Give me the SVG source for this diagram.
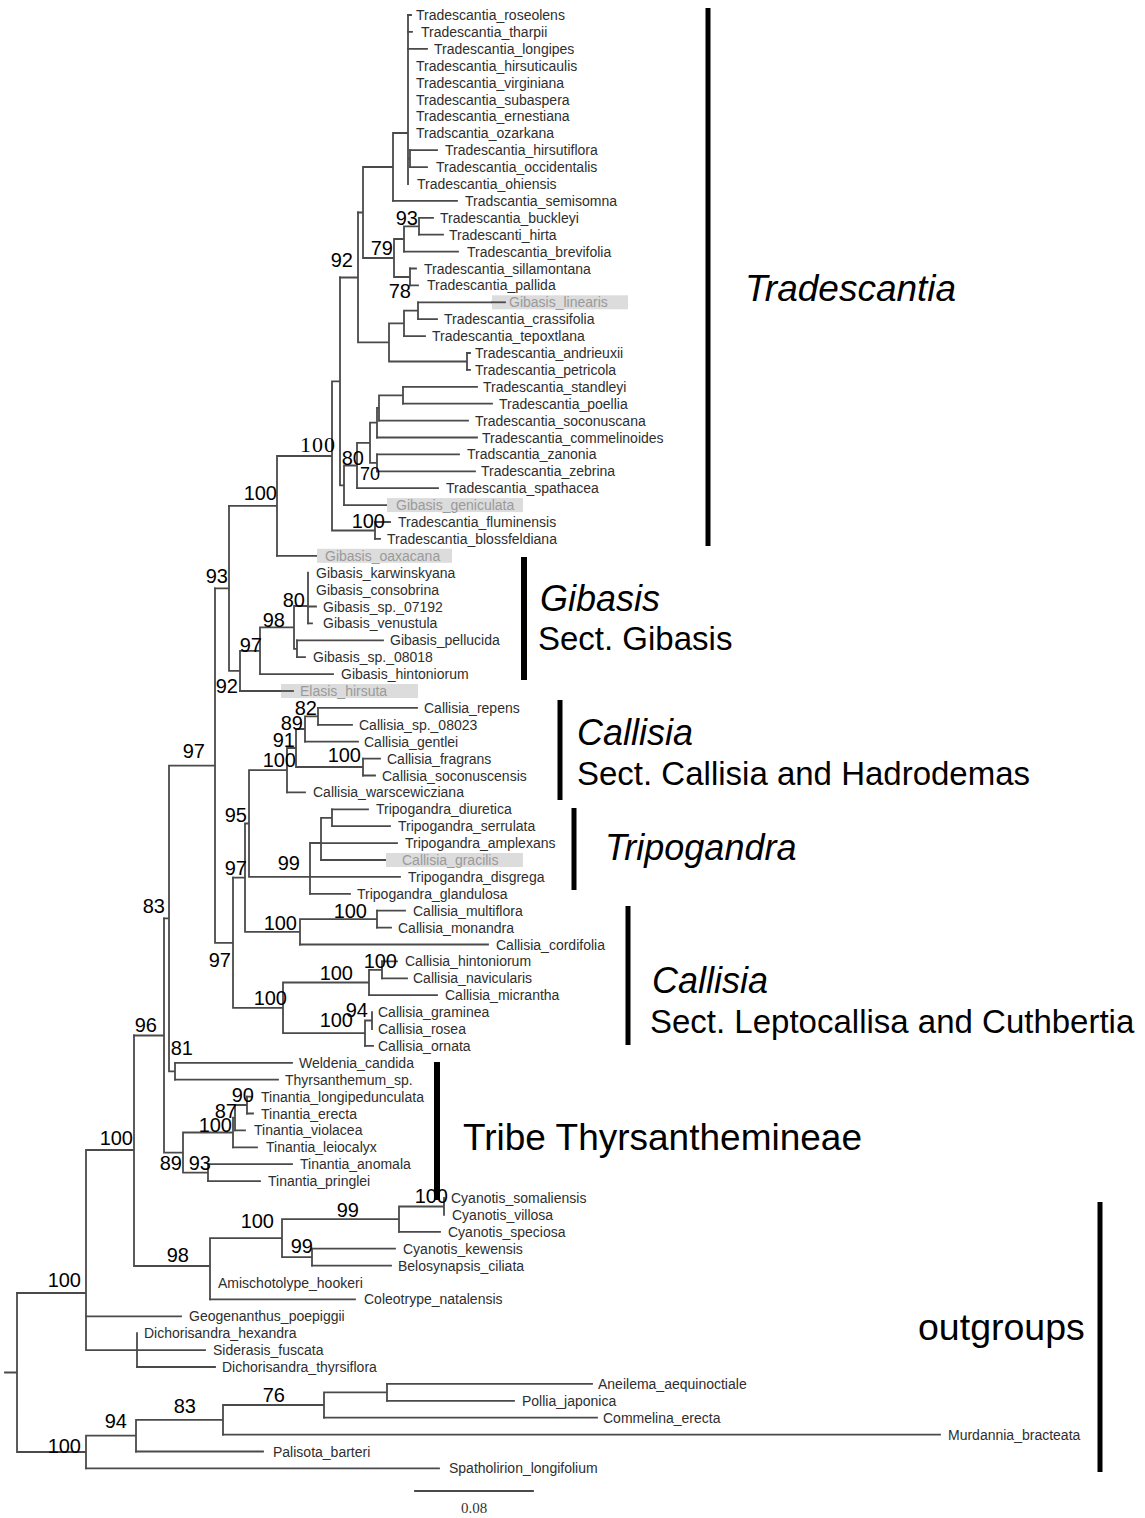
<svg xmlns="http://www.w3.org/2000/svg" width="1145" height="1518" viewBox="0 0 1145 1518">
<style>
.br{stroke:#4a4a4a;stroke-width:1.8;fill:none;stroke-linecap:square}
.lf{font-family:"Liberation Sans",Arial,sans-serif;font-size:14px;fill:#2e2e2e}
.hl{font-family:"Liberation Sans",Arial,sans-serif;font-size:14px;fill:#9a9a9a}
.hb{fill:#dcdcdc}
.bs{font-family:"Liberation Sans",Arial,sans-serif;font-size:20px;fill:#000;text-anchor:end}
.bss{font-family:"Liberation Serif","Times New Roman",serif;font-size:22px;fill:#000;text-anchor:end;letter-spacing:1px}
.bar{fill:#000}
.cl{font-family:"Liberation Sans",Arial,sans-serif;font-size:36px;fill:#000;font-style:italic}
.cs{font-family:"Liberation Sans",Arial,sans-serif;font-size:33px;fill:#000}
.sc{font-family:"Liberation Serif","Times New Roman",serif;font-size:15px;fill:#333;text-anchor:middle}
</style>
<rect width="1145" height="1518" fill="#fff"/>
<g id="connectors" class="br">
<path d="M408 15V184M393 133H408M410 150.2V167.1M408 158.6H410M393 133V200.9M363 167H393M419 217.8V234.7M404 226.3H419M404 226.3V251.6M394 239H404M410 268.5V285.4M394 277H410M394 239V277M363 258H394M363 167V258M358 212.5H363"/>
<path d="M418 302.3V319.2M404 310.7H418M404 310.7V336.1M389 323.4H404M467 353V369.9M389 361.5H467M389 323.4V361.5M358 342.4H389M358 212.5V342.4M340 277.5H358"/>
<path d="M403 386.8V403.7M379 395.3H403M379 395.3V420.6M377 408H379M377 408V437.5M370 422.7H377M377 454.4V471.3M370 462.9H377M370 422.7V462.9M357 442.8H370M357 442.8V488.2M344 465.5H357M344 465.5V505.1M340 485.3H344M340 277.5V485.3M332 381.4H340M375 522V538.9M332 530.5H375M332 381.4V530.5M277 456H332M277 456V555.8M229 505.9H277"/>
<path d="M308 572.7V623.4M294 606H308M297 640.3V657.2M294 648.8H297M294 606V648.8M260 627.4H294M260 627.4V674.1M240 650.8H260M240 650.8V691M229 670.9H240M229 505.9V670.9M215 588.4H229"/>
<path d="M318 707.9V724.8M305 716.4H318M305 716.4V741.7M296 729H305M363 758.6V775.5M296 767H363M296 729V767M287 748H296M287 748V792.4M249 770.2H287M332 809.3V826.2M321 817.8H332M321 817.8V860M310 843H321M310 843V893.8M249 876.9H310M249 770.2V876.9M245 823.5H249M377 910.7V927.6M300 919.2H377M300 919.2V944.5M245 931.8H300M245 823.5V931.8M233 877.7H245"/>
<path d="M382 961.4V978.3M369 969.9H382M369 969.9V995.2M283 982.5H369M372 1012.1V1029M365 1020.5H372M365 1020.5V1045.9M283 1033.2H365M283 982.5V1033.2M233 1007.9H283M233 877.7V1007.9M215 942.8H233M215 588.4V942.8M169 765.6H215M175 1062.8V1079.7M169 1071.3H175M169 765.6V1071.3M164 918.4H169"/>
<path d="M247 1096.6V1113.5M235 1105H247M235 1105V1130.4M233 1117.7H235M233 1117.7V1147.3M183 1132.5H233M208 1164.2V1181.1M183 1172.6H208M183 1132.5V1172.6M164 1152.6H183M164 918.4V1152.6M134 1035.5H164"/>
<path d="M444 1198V1214.9M399 1206.5H444M399 1206.5V1231.8M282 1219.1H399M312 1248.7V1265.6M282 1257.2H312M282 1219.1V1257.2M210 1238.1H282M210 1238.1V1299.4M134 1266H210M134 1035.5V1266M86 1150H134M137 1333.2V1367M86 1350.1H137M86 1150V1350.1M17 1293H86"/>
<path d="M387 1383.9V1400.8M324 1392.4H387M324 1392.4V1417.7M223 1405H324M223 1405V1434.6M136 1419.8H223M136 1419.8V1451.5M86 1435.7H136M86 1435.7V1468.4M17 1452H86M17 1293V1452M5 1372.5H17"/>
<path d="M408 15H411M408 31.9H412M408 48.8H427M410 150.2H437M410 167.1H427M393 200.9H457M419 217.8H433M419 234.7H443M404 251.6H458M410 268.5H416M410 285.4H418M418 302.3H492M418 319.2H437M404 336.1H425M467 353H470M467 369.9H470"/>
<path d="M403 386.8H477M403 403.7H492M379 420.6H468M377 437.5H477M377 454.4H459M377 471.3H475M357 488.2H438M344 505.1H387M375 522H390M375 538.9H380M277 555.8H317M308 606.5H316M308 623.4H312M297 640.3H383M297 657.2H305M260 674.1H333M240 691H281"/>
<path d="M318 707.9H417M318 724.8H352M305 741.7H358M363 758.6H380M363 775.5H375M287 792.4H305M332 809.3H368M332 826.2H390M321 843.1H397M321 860H386M310 876.9H400M310 893.8H350M377 910.7H405M377 927.6H391M300 944.5H488M382 961.4H397M382 978.3H407M369 995.2H437M365 1045.9H373"/>
<path d="M175 1062.8H292M175 1079.7H278M247 1096.6H252M247 1113.5H253M235 1130.4H245M233 1147.3H257M208 1164.2H292M208 1181.1H260M399 1231.8H440M312 1248.7H395M312 1265.6H391M210 1299.4H355M86 1316.3H181M137 1350.1H205M137 1367H215"/>
<path d="M387 1383.9H592M387 1400.8H514M324 1417.7H597M223 1434.6H940M136 1451.5H263M86 1468.4H439"/>
</g>
<g id="leaf-roseolens"><text class="lf" x="416" y="20">Tradescantia_roseolens</text></g>
<g id="leaf-tharpii"><text class="lf" x="421" y="36.9">Tradescantia_tharpii</text></g>
<g id="leaf-longipes"><text class="lf" x="434" y="53.8">Tradescantia_longipes</text></g>
<g id="leaf-hirsuticaulis"><text class="lf" x="416" y="70.7">Tradescantia_hirsuticaulis</text></g>
<g id="leaf-virginiana"><text class="lf" x="416" y="87.6">Tradescantia_virginiana</text></g>
<g id="leaf-subaspera"><text class="lf" x="416" y="104.5">Tradescantia_subaspera</text></g>
<g id="leaf-ernestiana"><text class="lf" x="416" y="121.4">Tradescantia_ernestiana</text></g>
<g id="leaf-ozarkana"><text class="lf" x="416" y="138.3">Tradscantia_ozarkana</text></g>
<g id="leaf-hirsutiflora"><text class="lf" x="445" y="155.2">Tradescantia_hirsutiflora</text></g>
<g id="leaf-occidentalis"><text class="lf" x="436" y="172.1">Tradescantia_occidentalis</text></g>
<g id="leaf-ohiensis"><text class="lf" x="417" y="189">Tradescantia_ohiensis</text></g>
<g id="leaf-semisomna"><text class="lf" x="465" y="205.9">Tradscantia_semisomna</text></g>
<g id="leaf-buckleyi"><text class="lf" x="440" y="222.8">Tradescantia_buckleyi</text></g>
<g id="leaf-hirta"><text class="lf" x="449" y="239.7">Tradescanti_hirta</text></g>
<g id="leaf-brevifolia"><text class="lf" x="467" y="256.6">Tradescantia_brevifolia</text></g>
<g id="leaf-sillamontana"><text class="lf" x="424" y="273.5">Tradescantia_sillamontana</text></g>
<g id="leaf-pallida"><text class="lf" x="427" y="290.4">Tradescantia_pallida</text></g>
<g id="leaf-gibasis-linearis"><rect class="hb" x="492" y="295.3" width="136" height="14"/><path class="br" d="M492 302.3H505" stroke="#aaa"/><text class="hl" x="509" y="307.3">Gibasis_linearis</text></g>
<g id="leaf-crassifolia"><text class="lf" x="444" y="324.2">Tradescantia_crassifolia</text></g>
<g id="leaf-tepoxtlana"><text class="lf" x="432" y="341.1">Tradescantia_tepoxtlana</text></g>
<g id="leaf-andrieuxii"><text class="lf" x="475" y="358">Tradescantia_andrieuxii</text></g>
<g id="leaf-petricola"><text class="lf" x="475" y="374.9">Tradescantia_petricola</text></g>
<g id="leaf-standleyi"><text class="lf" x="483" y="391.8">Tradescantia_standleyi</text></g>
<g id="leaf-poellia"><text class="lf" x="499" y="408.7">Tradescantia_poellia</text></g>
<g id="leaf-soconuscana"><text class="lf" x="475" y="425.6">Tradescantia_soconuscana</text></g>
<g id="leaf-commelinoides"><text class="lf" x="482" y="442.5">Tradescantia_commelinoides</text></g>
<g id="leaf-zanonia"><text class="lf" x="467" y="459.4">Tradscantia_zanonia</text></g>
<g id="leaf-zebrina"><text class="lf" x="481" y="476.3">Tradescantia_zebrina</text></g>
<g id="leaf-spathacea"><text class="lf" x="446" y="493.2">Tradescantia_spathacea</text></g>
<g id="leaf-gibasis-geniculata"><rect class="hb" x="387" y="498.1" width="136" height="14"/><text class="hl" x="396" y="510.1">Gibasis_geniculata</text></g>
<g id="leaf-fluminensis"><text class="lf" x="398" y="527">Tradescantia_fluminensis</text></g>
<g id="leaf-blossfeldiana"><text class="lf" x="387" y="543.9">Tradescantia_blossfeldiana</text></g>
<g id="leaf-gibasis-oaxacana"><rect class="hb" x="317" y="548.8" width="135" height="14"/><text class="hl" x="325" y="560.8">Gibasis_oaxacana</text></g>
<g id="leaf-karwinskyana"><text class="lf" x="316" y="577.7">Gibasis_karwinskyana</text></g>
<g id="leaf-consobrina"><text class="lf" x="316" y="594.6">Gibasis_consobrina</text></g>
<g id="leaf-gibasis-07192"><text class="lf" x="323" y="611.5">Gibasis_sp._07192</text></g>
<g id="leaf-venustula"><text class="lf" x="323" y="628.4">Gibasis_venustula</text></g>
<g id="leaf-pellucida"><text class="lf" x="390" y="645.3">Gibasis_pellucida</text></g>
<g id="leaf-gibasis-08018"><text class="lf" x="313" y="662.2">Gibasis_sp._08018</text></g>
<g id="leaf-gibasis-hintoniorum"><text class="lf" x="341" y="679.1">Gibasis_hintoniorum</text></g>
<g id="leaf-elasis"><rect class="hb" x="281" y="684" width="137" height="14"/><path class="br" d="M281 691H293" stroke="#aaa"/><text class="hl" x="300" y="696">Elasis_hirsuta</text></g>
<g id="leaf-repens"><text class="lf" x="424" y="712.9">Callisia_repens</text></g>
<g id="leaf-callisia-08023"><text class="lf" x="359" y="729.8">Callisia_sp._08023</text></g>
<g id="leaf-gentlei"><text class="lf" x="364" y="746.7">Callisia_gentlei</text></g>
<g id="leaf-fragrans"><text class="lf" x="387" y="763.6">Callisia_fragrans</text></g>
<g id="leaf-soconuscensis"><text class="lf" x="382" y="780.5">Callisia_soconuscensis</text></g>
<g id="leaf-warscewicziana"><text class="lf" x="313" y="797.4">Callisia_warscewicziana</text></g>
<g id="leaf-diuretica"><text class="lf" x="376" y="814.3">Tripogandra_diuretica</text></g>
<g id="leaf-serrulata"><text class="lf" x="398" y="831.2">Tripogandra_serrulata</text></g>
<g id="leaf-amplexans"><text class="lf" x="405" y="848.1">Tripogandra_amplexans</text></g>
<g id="leaf-callisia-gracilis"><rect class="hb" x="386" y="853" width="137" height="14"/><text class="hl" x="402" y="865">Callisia_gracilis</text></g>
<g id="leaf-disgrega"><text class="lf" x="408" y="881.9">Tripogandra_disgrega</text></g>
<g id="leaf-glandulosa"><text class="lf" x="357" y="898.8">Tripogandra_glandulosa</text></g>
<g id="leaf-multiflora"><text class="lf" x="413" y="915.7">Callisia_multiflora</text></g>
<g id="leaf-monandra"><text class="lf" x="398" y="932.6">Callisia_monandra</text></g>
<g id="leaf-cordifolia"><text class="lf" x="496" y="949.5">Callisia_cordifolia</text></g>
<g id="leaf-callisia-hintoniorum"><text class="lf" x="405" y="966.4">Callisia_hintoniorum</text></g>
<g id="leaf-navicularis"><text class="lf" x="413" y="983.3">Callisia_navicularis</text></g>
<g id="leaf-micrantha"><text class="lf" x="445" y="1000.2">Callisia_micrantha</text></g>
<g id="leaf-graminea"><text class="lf" x="378" y="1017.1">Callisia_graminea</text></g>
<g id="leaf-rosea"><text class="lf" x="378" y="1034">Callisia_rosea</text></g>
<g id="leaf-ornata"><text class="lf" x="378" y="1050.9">Callisia_ornata</text></g>
<g id="leaf-weldenia"><text class="lf" x="299" y="1067.8">Weldenia_candida</text></g>
<g id="leaf-thyrsanthemum"><text class="lf" x="285" y="1084.7">Thyrsanthemum_sp.</text></g>
<g id="leaf-longipedunculata"><text class="lf" x="261" y="1101.6">Tinantia_longipedunculata</text></g>
<g id="leaf-tinantia-erecta"><text class="lf" x="261" y="1118.5">Tinantia_erecta</text></g>
<g id="leaf-violacea"><text class="lf" x="254" y="1135.4">Tinantia_violacea</text></g>
<g id="leaf-leiocalyx"><text class="lf" x="266" y="1152.3">Tinantia_leiocalyx</text></g>
<g id="leaf-anomala"><text class="lf" x="300" y="1169.2">Tinantia_anomala</text></g>
<g id="leaf-pringlei"><text class="lf" x="268" y="1186.1">Tinantia_pringlei</text></g>
<g id="leaf-somaliensis"><text class="lf" x="451" y="1203">Cyanotis_somaliensis</text></g>
<g id="leaf-villosa"><text class="lf" x="452" y="1219.9">Cyanotis_villosa</text></g>
<g id="leaf-speciosa"><text class="lf" x="448" y="1236.8">Cyanotis_speciosa</text></g>
<g id="leaf-kewensis"><text class="lf" x="403" y="1253.7">Cyanotis_kewensis</text></g>
<g id="leaf-belosynapsis"><text class="lf" x="398" y="1270.6">Belosynapsis_ciliata</text></g>
<g id="leaf-amischotolype"><text class="lf" x="218" y="1287.5">Amischotolype_hookeri</text></g>
<g id="leaf-coleotrype"><text class="lf" x="364" y="1304.4">Coleotrype_natalensis</text></g>
<g id="leaf-geogenanthus"><text class="lf" x="189" y="1321.3">Geogenanthus_poepiggii</text></g>
<g id="leaf-d-hexandra"><text class="lf" x="144" y="1338.2">Dichorisandra_hexandra</text></g>
<g id="leaf-siderasis"><text class="lf" x="213" y="1355.1">Siderasis_fuscata</text></g>
<g id="leaf-d-thyrsiflora"><text class="lf" x="222" y="1372">Dichorisandra_thyrsiflora</text></g>
<g id="leaf-aneilema"><text class="lf" x="598" y="1388.9">Aneilema_aequinoctiale</text></g>
<g id="leaf-pollia"><text class="lf" x="522" y="1405.8">Pollia_japonica</text></g>
<g id="leaf-commelina"><text class="lf" x="603" y="1422.7">Commelina_erecta</text></g>
<g id="leaf-murdannia"><text class="lf" x="948" y="1439.6">Murdannia_bracteata</text></g>
<g id="leaf-palisota"><text class="lf" x="273" y="1456.5">Palisota_barteri</text></g>
<g id="leaf-spatholirion"><text class="lf" x="449" y="1473.4">Spatholirion_longifolium</text></g>
<g id="support">
<text class="bs" x="418" y="225">93</text>
<text class="bs" x="393" y="255">79</text>
<text class="bs" x="411" y="298">78</text>
<text class="bs" x="353" y="267">92</text>
<text class="bss" x="336" y="452">100</text>
<text class="bs" x="364" y="465">80</text>
<text class="bs" x="380" y="480" style="font-size:18px">70</text>
<text class="bs" x="385" y="528">100</text>
<text class="bs" x="277" y="500">100</text>
<text class="bs" x="228" y="583">93</text>
<text class="bs" x="305" y="607">80</text>
<text class="bs" x="285" y="627">98</text>
<text class="bs" x="262" y="652">97</text>
<text class="bs" x="238" y="693">92</text>
<text class="bs" x="317" y="715">82</text>
<text class="bs" x="303" y="730">89</text>
<text class="bs" x="295" y="747">91</text>
<text class="bs" x="296" y="767">100</text>
<text class="bs" x="361" y="762">100</text>
<text class="bs" x="205" y="758">97</text>
<text class="bs" x="247" y="822">95</text>
<text class="bs" x="247" y="875">97</text>
<text class="bs" x="300" y="870">99</text>
<text class="bs" x="297" y="930">100</text>
<text class="bs" x="367" y="918">100</text>
<text class="bs" x="165" y="913">83</text>
<text class="bs" x="231" y="967">97</text>
<text class="bs" x="287" y="1005">100</text>
<text class="bs" x="353" y="980">100</text>
<text class="bs" x="397" y="968">100</text>
<text class="bs" x="353" y="1027">100</text>
<text class="bs" x="368" y="1017">94</text>
<text class="bs" x="157" y="1032">96</text>
<text class="bs" x="193" y="1055">81</text>
<text class="bs" x="254" y="1102">90</text>
<text class="bs" x="237" y="1118">87</text>
<text class="bs" x="232" y="1132">100</text>
<text class="bs" x="182" y="1170">89</text>
<text class="bs" x="211" y="1170">93</text>
<text class="bs" x="133" y="1145">100</text>
<text class="bs" x="448" y="1203">100</text>
<text class="bs" x="359" y="1217">99</text>
<text class="bs" x="274" y="1228">100</text>
<text class="bs" x="313" y="1253">99</text>
<text class="bs" x="189" y="1262">98</text>
<text class="bs" x="81" y="1287">100</text>
<text class="bs" x="285" y="1402">76</text>
<text class="bs" x="196" y="1413">83</text>
<text class="bs" x="127" y="1428">94</text>
<text class="bs" x="81" y="1453">100</text>
</g>
<g id="clade-tradescantia"><rect class="bar" x="705.5" y="8" width="5" height="538"/><text class="cl" x="745" y="301" style="font-size:37px">Tradescantia</text></g>
<g id="clade-gibasis"><rect class="bar" x="521" y="557" width="6" height="123"/><text class="cl" x="540" y="611">Gibasis</text><text class="cs" x="538" y="650">Sect. Gibasis</text></g>
<g id="clade-callisia1"><rect class="bar" x="557.5" y="700" width="5" height="100"/><text class="cl" x="577" y="745">Callisia</text><text class="cs" x="577" y="785">Sect. Callisia and Hadrodemas</text></g>
<g id="clade-tripogandra"><rect class="bar" x="571.5" y="808" width="5" height="82"/><text class="cl" x="605" y="860">Tripogandra</text></g>
<g id="clade-callisia2"><rect class="bar" x="625.5" y="906" width="5" height="139"/><text class="cl" x="652" y="993">Callisia</text><text class="cs" x="650" y="1033">Sect. Leptocallisa and Cuthbertia</text></g>
<g id="clade-thyrsanthemineae"><rect class="bar" x="434" y="1062" width="6" height="138"/><text class="cs" x="463" y="1150" style="font-size:37px">Tribe Thyrsanthemineae</text></g>
<g id="clade-outgroups"><rect class="bar" x="1097.5" y="1202" width="5" height="270"/><text class="cs" x="918" y="1340" style="font-size:37.5px">outgroups</text></g>
<g id="scale-bar"><path class="br" d="M415 1491H533"/><text class="sc" x="474" y="1513">0.08</text></g>
</svg>
